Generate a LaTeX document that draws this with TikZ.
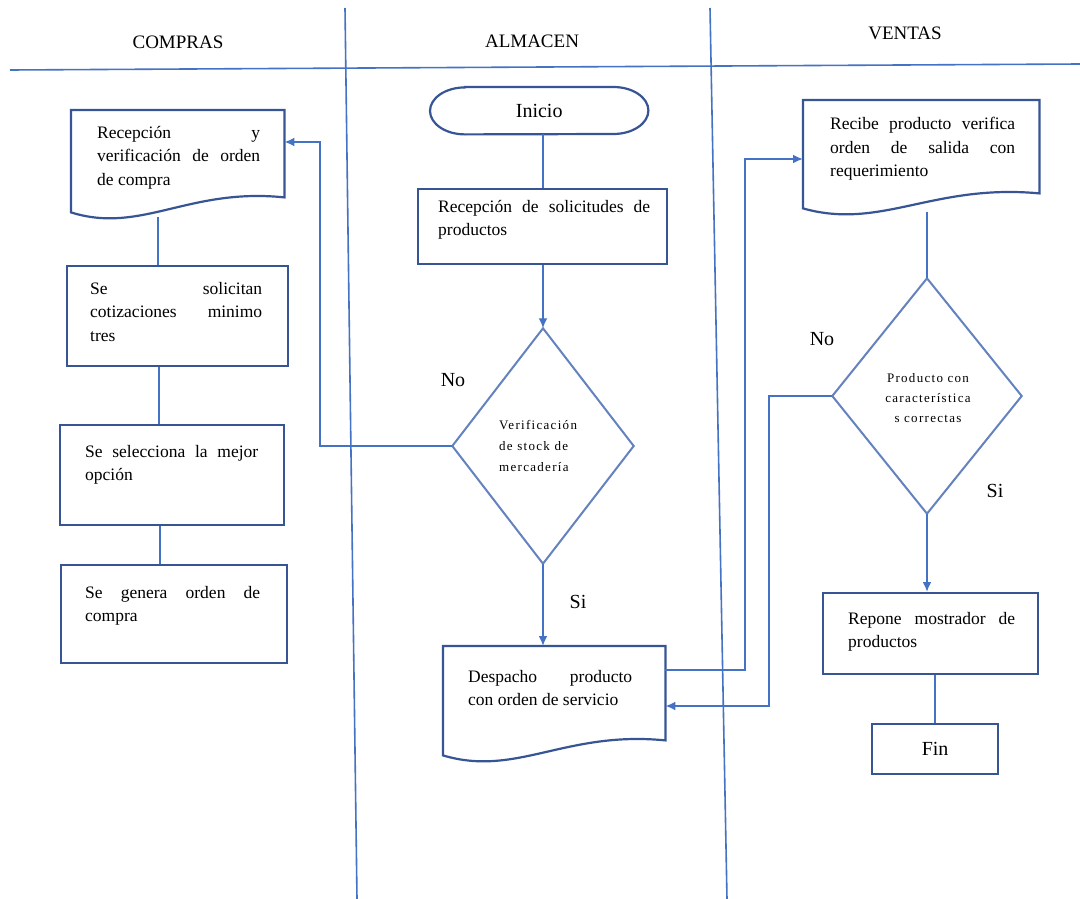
\documentclass[tikz,border=0pt]{standalone}
\usepackage{fontspec}
\setmainfont{Liberation Serif}
\newfontfamily\diafont[LetterSpace=10]{Liberation Serif}
\usetikzlibrary{arrows.meta,calc}
\definecolor{boxcol}{RGB}{55,85,148}
\definecolor{diacol}{RGB}{100,130,190}
\definecolor{linecol}{RGB}{68,114,196}
\hyphenpenalty=10000 \exhyphenpenalty=10000 \tolerance=10000 \hbadness=10000
\setlength{\parindent}{0pt}
\newcommand{\bodyf}{\fontsize{17.5}{23.5}\selectfont}
\newcommand{\headf}{\fontsize{19}{22}\selectfont}
\newcommand{\labf}{\fontsize{20}{24}\selectfont}
\newcommand{\diafa}{\diafont\fontsize{13}{21}\selectfont}
\newcommand{\diafb}{\diafont\fontsize{13}{20}\selectfont}
\newcommand{\docoutline}[1]{\draw[boxline] (#1.south west) -- (#1.north west) -- (#1.north east) -- ([yshift=15pt]#1.south east) .. controls ($(#1.south west)!0.55!(#1.south east)+(0pt,25pt)$) and ($(#1.south west)!0.33!(#1.south east)+(0pt,-22pt)$) .. (#1.south west) -- cycle;}
\begin{document}
\begin{tikzpicture}[x=1pt,y=-1pt,
 boxline/.style={draw=boxcol,line width=2.2pt},
 dialine/.style={draw=diacol,line width=2pt},
 shapebox/.style={boxline,inner sep=0pt,anchor=north west},
 hold/.style={inner sep=0pt,anchor=north west},
 conn/.style={draw=linecol,line width=2.2pt},
 arr/.style={conn,-{Latex[length=10pt,width=9pt]}},
 lane/.style={draw=linecol,line width=1.6pt},
 txt/.style={inner sep=0pt,anchor=north west,align=justify,font=\bodyf},
 head/.style={font=\headf,inner sep=0pt},
 lab/.style={font=\labf,inner sep=0pt}]
\useasboundingbox (0,0) rectangle (1080,899);
\fill[white] (0,0) rectangle (1080,899);

% lanes
\draw[lane] (10,70) -- (1080,64);
\draw[lane] (345,8) -- (357,899);
\draw[lane] (710,8) -- (727,899);
\node[head] (hc) at (178,42) {COMPRAS};
\node[head] (ha) at (532,41) {ALMACEN};
\node[head] (hv) at (905,33) {VENTAS};

% COMPRAS
\node[hold,minimum width=213pt,minimum height=102pt] (d1) at (71,110) {};
\docoutline{d1}
\node[txt,text width=163pt] (t1) at (97,126) {Recepción y\linebreak verificación de orden\linebreak de compra};
\node[shapebox,minimum width=221pt,minimum height=100pt] (b2) at (66,265) {};
\node[txt,text width=172pt] (t2) at (90,282) {Se solicitan\linebreak cotizaciones minimo\linebreak tres};
\node[shapebox,minimum width=224pt,minimum height=100pt] (b3) at (59,424) {};
\node[txt,text width=173pt] (t3) at (85,445) {Se selecciona la mejor\linebreak opción};
\node[shapebox,minimum width=226pt,minimum height=98pt] (b4) at (60,564) {};
\node[txt,text width=175pt] (t4) at (85,586) {Se genera orden de\linebreak compra};

\draw[conn] ([xshift=-20pt,yshift=-5pt]b2.north |- d1.south) -- ([xshift=-20pt]b2.north);
\draw[conn] ([xshift=-13pt]b3.north |- b2.south) -- ([xshift=-13pt]b3.north);
\draw[conn] ([xshift=-12pt]b3.south) -- ([xshift=-12pt]b3.south |- b4.north);

% ALMACEN
\node[hold,minimum width=218pt,minimum height=47pt,font=\labf] (ini) at (430,87) {Inicio};
\draw[boxline] ([xshift=35pt]ini.north west) -- ([xshift=-35pt]ini.north east)
  arc[start angle=90,end angle=-90,x radius=35pt,y radius=23.5pt]
  -- ([xshift=35pt]ini.south west)
  arc[start angle=270,end angle=90,x radius=35pt,y radius=23.5pt] -- cycle;
\node[shapebox,minimum width=249pt,minimum height=75pt] (rec) at (417,188) {};
\node[txt,text width=212pt] (t5) at (438,200) {Recepción de solicitudes de\linebreak productos};
\node[hold,anchor=center,minimum width=181pt,minimum height=235pt] (dia1) at (543,446) {};
\draw[dialine] (dia1.north) -- (dia1.east) -- (dia1.south) -- (dia1.west) -- cycle;
\node[inner sep=0pt,anchor=north west,align=left,font=\diafa] (t6) at (499,420) {Verificación\\de stock de\\mercadería};
\node[hold,minimum width=222pt,minimum height=109pt] (d2) at (443,646) {};
\docoutline{d2}
\node[txt,text width=164pt] (t7) at (468,670) {Despacho producto\linebreak con orden de servicio};
\node[lab] (no1) at (453,380) {No};
\node[lab] (si1) at (578,602) {Si};

\draw[conn] (rec.north |- ini.south) -- (rec.north);
\draw[arr] (dia1.north |- rec.south) -- (dia1.north);
\draw[arr] (dia1.south) -- (dia1.south |- d2.north);
\coordinate (c1) at (320,142);
\draw[arr] (dia1.west) -| (c1) -- (d1.east |- c1);

% VENTAS
\node[hold,minimum width=236pt,minimum height=108pt] (d3) at (803,100) {};
\docoutline{d3}
\node[txt,text width=185pt] (t8) at (830,117) {Recibe producto verifica\linebreak orden de salida con\linebreak requerimiento};
\node[hold,anchor=center,minimum width=189pt,minimum height=235pt] (dia2) at (927,396) {};
\draw[dialine] (dia2.north) -- (dia2.east) -- (dia2.south) -- (dia2.west) -- cycle;
\node[inner sep=0pt,anchor=north,align=center,font=\diafb] (t9) at (928,373) {Producto con\\característica\\s correctas};
\node[shapebox,minimum width=215pt,minimum height=81pt] (rep) at (822,592) {};
\node[txt,text width=167pt] (t10) at (848,612) {Repone mostrador de\linebreak productos};
\node[shapebox,minimum width=126pt,minimum height=50pt,font=\labf] (fin) at (871,723) {Fin};
\node[lab] (no2) at (822,339) {No};
\node[lab] (si2) at (995,491) {Si};

\draw[conn] ([yshift=-4pt]dia2.north |- d3.south) -- (dia2.north);
\draw[arr] (dia2.south) -- (dia2.south |- rep.north);
\draw[conn] (fin.north |- rep.south) -- (fin.north);
\coordinate (c2a) at (745,670);
\coordinate (c2b) at (745,159);
\draw[arr] (d2.east |- c2a) -- (c2a) -- (c2b) -- (d3.west |- c2b);
\coordinate (c3) at (769,706);
\draw[arr] (dia2.west) -| (c3) -- (d2.east |- c3);
\end{tikzpicture}
\end{document}
